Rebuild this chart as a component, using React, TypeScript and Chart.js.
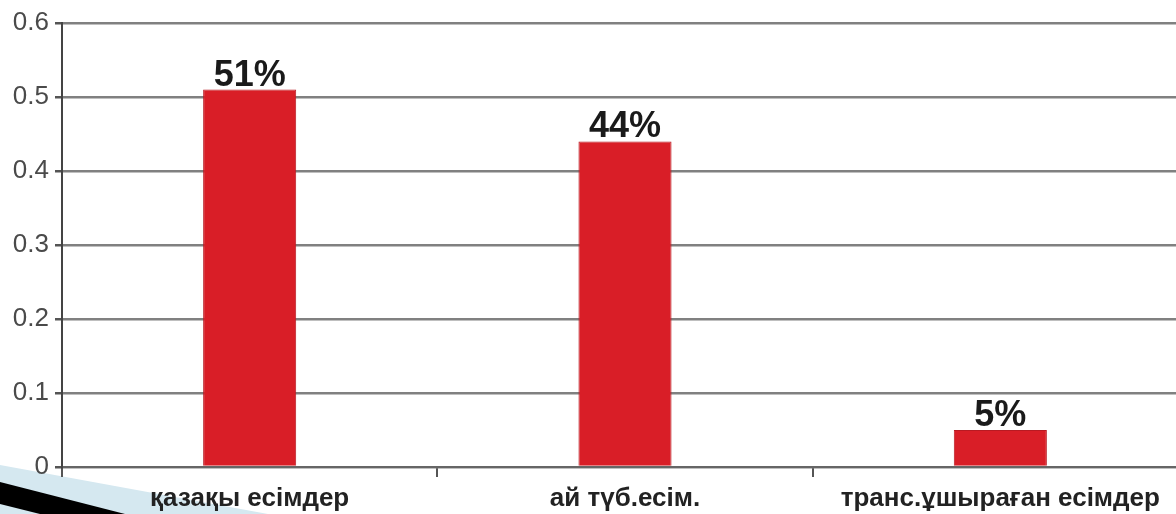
import React, { useEffect, useRef } from "react";
import { Chart, registerables } from "chart.js";

Chart.register(...registerables);

const categories = ["қазақы есімдер", "ай түб.есім.", "транс.ұшыраған есімдер"];
const shares = [0.51, 0.44, 0.05];
const yMin = 0;
const yMax = 0.6;
const yStep = 0.1;

const FONT = "'Liberation Sans', Arial, sans-serif";

const decorationPlugin = {
  id: "slideDecoration",
  beforeDraw(chart: any) {
    const ctx = chart.ctx;
    const h = chart.height;
    ctx.save();
    ctx.fillStyle = "#d5e8f0";
    ctx.beginPath();
    ctx.moveTo(0, 465);
    ctx.lineTo(268, h);
    ctx.lineTo(0, h);
    ctx.closePath();
    ctx.fill();
    ctx.fillStyle = "#000000";
    ctx.beginPath();
    ctx.moveTo(0, 482);
    ctx.lineTo(125, h);
    ctx.lineTo(40, h);
    ctx.lineTo(0, 504);
    ctx.closePath();
    ctx.fill();
    ctx.restore();
  },
};

const valueLabelPlugin = {
  id: "valueLabels",
  afterDatasetsDraw(chart: any) {
    const ctx = chart.ctx;
    const meta = chart.getDatasetMeta(0);
    const data = chart.data.datasets[0].data as number[];
    ctx.save();
    ctx.font = `bold 36px ${FONT}`;
    ctx.fillStyle = "#1a1a1a";
    ctx.textAlign = "center";
    ctx.textBaseline = "alphabetic";
    meta.data.forEach((bar: any, i: number) => {
      ctx.fillText(`${Math.round(data[i] * 100)}%`, bar.x, bar.y - 4);
    });
    ctx.restore();
  },
};

export default function App() {
  const ref = useRef<HTMLCanvasElement | null>(null);

  useEffect(() => {
    if (!ref.current) return;
    const chart = new Chart(ref.current, {
      type: "bar",
      data: {
        labels: categories,
        datasets: [
          {
            data: shares,
            backgroundColor: "#d91e27",
            borderColor: "#b81a22",
            borderWidth: 1,
            categoryPercentage: 1,
            barPercentage: 0.248,
          },
        ],
      },
      options: {
        animation: false,
        responsive: false,
        devicePixelRatio: 1,
        layout: { padding: { top: 23, right: 2, bottom: 0, left: 0 } },
        plugins: {
          legend: { display: false },
          tooltip: { enabled: false },
        },
        scales: {
          x: {
            grid: {
              offset: true,
              drawOnChartArea: false,
              drawTicks: true,
              tickLength: 10,
              color: "#555555",
              lineWidth: 2,
            },
            border: { display: true, color: "#666666", width: 2 },
            ticks: {
              color: "#222222",
              font: { family: FONT, size: 26, weight: "bold" },
              padding: 6,
              maxRotation: 0,
              autoSkip: false,
            },
            afterFit(scale: any) {
              scale.height = 47;
            },
          },
          y: {
            min: yMin,
            max: yMax,
            ticks: {
              stepSize: yStep,
              color: "#4a4a4a",
              font: { family: FONT, size: 26 },
              padding: 6,
            },
            grid: {
              color: "#808080",
              lineWidth: 2.5,
              tickLength: 7,
              tickColor: "#555555",
            },
            border: { display: true, color: "#444444", width: 2 },
            afterFit(scale: any) {
              scale.width = 62;
            },
          },
        },
      },
      plugins: [decorationPlugin, valueLabelPlugin],
    });
    return () => chart.destroy();
  }, []);

  return (
    <div style={{ position: "fixed", left: 0, top: 0, width: 1190, height: 514, background: "#ffffff", overflow: "hidden" }}>
      <canvas ref={ref} width={1190} height={514} style={{ display: "block" }} />
    </div>
  );
}
